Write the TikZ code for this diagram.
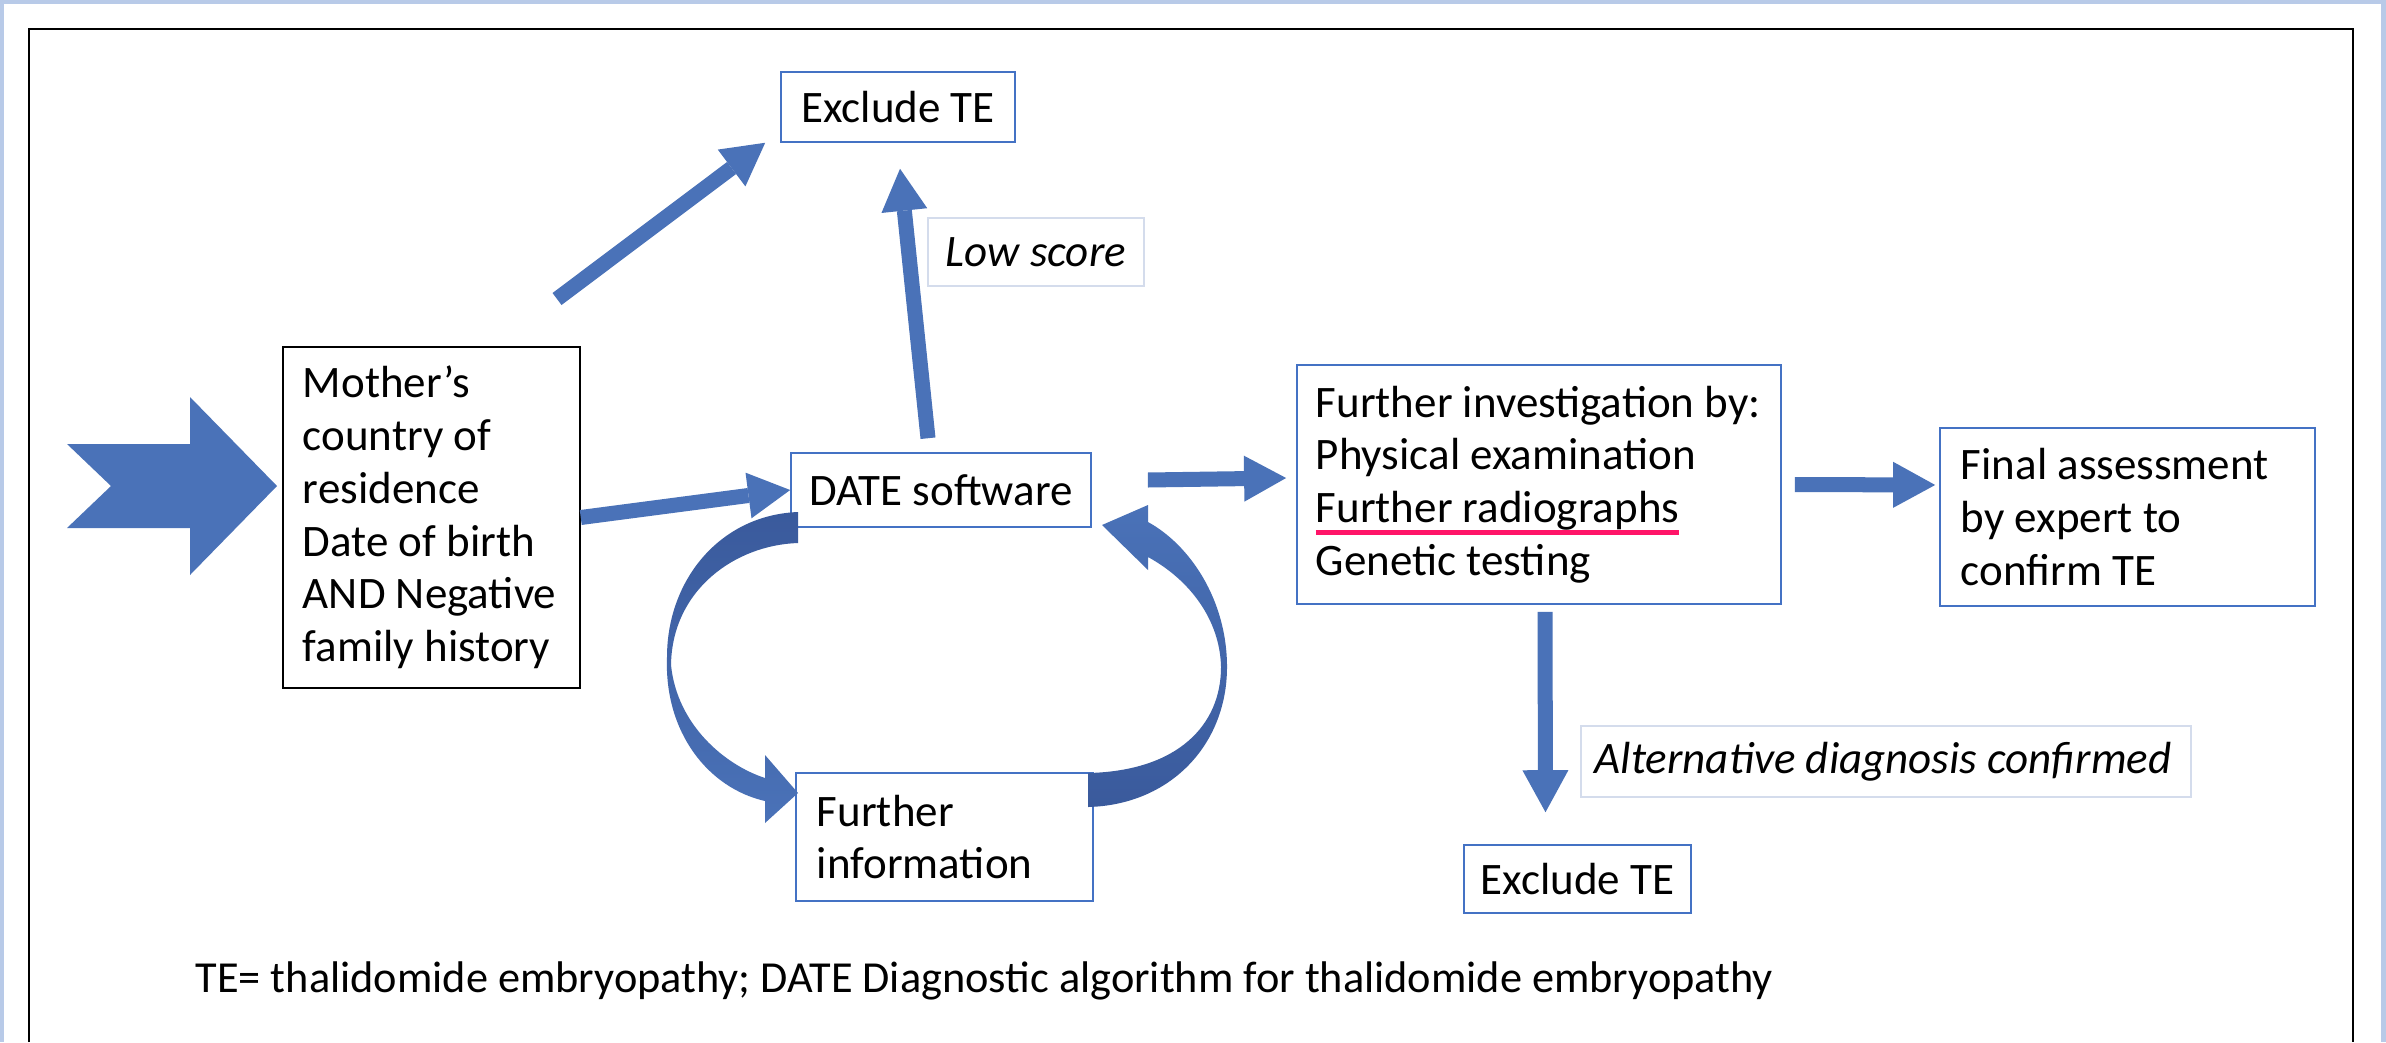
\documentclass[tikz,border=0pt]{standalone}
\usepackage{fontspec}
\setmainfont{Carlito}
\usetikzlibrary{arrows.meta}
\definecolor{arrowBlue}{HTML}{4A72B8}
\definecolor{curveDark}{HTML}{3A5A9C}
\definecolor{boxBlue}{HTML}{4472C4}
\definecolor{labelLine}{HTML}{D4DCEC}
\definecolor{bgBlue}{HTML}{B8CAE8}
\definecolor{ulPink}{HTML}{FF1468}
\newlength\ulwd
\newcommand\pinkul[1]{\leavevmode\settowidth{\ulwd}{#1}\rlap{\textcolor{ulPink}{\rule[-3.5pt]{\ulwd}{1.4pt}}}#1}
\tikzset{
  txt/.style={font=\fontsize{12.8}{15}\selectfont},
  bluebox/.style={txt, draw=boxBlue, line width=0.015cm, fill=white, inner ysep=0pt},
  blackbox/.style={txt, draw=black, line width=0.013cm, fill=white, inner ysep=0pt},
  labelbox/.style={txt, font=\fontsize{12.8}{15}\selectfont\itshape, draw=labelLine, line width=0.015cm, fill=white, inner ysep=0pt},
  blockarrow/.style={draw=arrowBlue, line width=0.15cm, line cap=butt, -{Triangle[length=0.42cm,width=0.46cm,line width=0pt]}},
}
\begin{document}
\begin{tikzpicture}[x=0.01cm, y=-0.01cm]
\useasboundingbox (0,0) rectangle (2386,1042);
% page background
\fill[bgBlue] (0,0) rectangle (2386,1042);
\fill[white] (4,4) rectangle (2381,1042);
% frame
\draw[black, line width=0.025cm] (29,1042) -- (29,29) -- (2353,29) -- (2353,1042);

% big notched input arrow
\fill[arrowBlue] (67,444) -- (190,444) -- (190,397) -- (277,486) -- (190,575) -- (190,528) -- (67,528) -- (111,486) -- cycle;

% boxes
\node[blackbox, inner xsep=0.2cm, text width=2.57cm, minimum height=3.41cm, align=flush left] (mother) at (431.5,517.5)
  {Mother’s\\country of\\residence\\Date of birth\\AND Negative\\family history};
\node[bluebox, minimum width=2.34cm, minimum height=0.70cm, align=center] (exTop) at (898,107) {Exclude TE};
\node[labelbox, minimum width=2.16cm, minimum height=0.68cm, align=center] (low) at (1036,252) {Low score};
\node[bluebox, minimum width=3.00cm, minimum height=0.74cm, align=center] (date) at (941,490) {DATE software};
\node[bluebox, inner xsep=0.21cm, text width=2.55cm, minimum height=1.28cm, align=flush left] (info) at (944.5,837)
  {Further\\information};
\node[bluebox, inner xsep=0.19cm, text width=4.46cm, minimum height=2.39cm, align=flush left] (inv) at (1539,484.5)
  {Further investigation by:\\Physical examination\\\pinkul{Further radiographs}\\Genetic testing};
\node[bluebox, inner xsep=0.21cm, text width=3.33cm, minimum height=1.78cm, align=flush left] (final) at (2127.5,517)
  {Final assessment\\by expert to\\confirm TE};
\node[labelbox, inner xsep=0.14cm, text width=5.82cm, minimum height=0.71cm, align=flush left] (alt) at (1886,761.5)
  {Alternative diagnosis confirmed};
\node[bluebox, minimum width=2.27cm, minimum height=0.68cm, align=center] (exBot) at (1577.5,879) {Exclude TE};

\node[font=\fontsize{12.6}{15}\selectfont, anchor=west, inner sep=0pt] (note) at (195,981)
  {TE= thalidomide embryopathy; DATE Diagnostic algorithm for thalidomide embryopathy};

% straight block arrows
\coordinate (diagTail) at (557,299);
\draw[blockarrow] (diagTail) -- ([xshift=-0.15cm]exTop.south west);
\draw[blockarrow] ([xshift=-0.13cm,yshift=0.14cm]date.north) -- ([xshift=0.02cm,yshift=-0.26cm]exTop.south);
\draw[blockarrow] (mother.east) -- (date.west);
\draw[blockarrow] ([xshift=0.56cm,yshift=0.10cm]date.east) -- ([xshift=-0.10cm,yshift=0.065cm]inv.west);
\draw[blockarrow] ([xshift=0.13cm]inv.east) -- ([xshift=-0.04cm,yshift=0.32cm]final.west);
\draw[blockarrow] ([xshift=0.06cm,yshift=-0.07cm]inv.south) -- ([xshift=-0.32cm,yshift=0.32cm]exBot.north);

% curved arrow: DATE software -> Further information
\shade[top color=curveDark, middle color=arrowBlue, bottom color=arrowBlue]
  (798,512) .. controls (720,515) and (667,580) .. (667,657)
  .. controls (664,732) and (708,788) .. (765,801)
  -- (765,823) -- (798,793) -- (765,755) -- (765,778)
  .. controls (725,765) and (677,725) .. (671,665)
  .. controls (672,590) and (735,545) .. (798,543) -- cycle;
% curved arrow: Further information -> DATE software
\shade[bottom color=curveDark, middle color=arrowBlue, top color=arrowBlue]
  (1088,807) .. controls (1170,805) and (1227,745) .. (1227,667)
  .. controls (1227,600) and (1190,545) .. (1148,522)
  -- (1148,505) -- (1102,525) -- (1148,570) -- (1148,557)
  .. controls (1190,580) and (1220,620) .. (1221,667)
  .. controls (1221,725) and (1178,771) .. (1088,773) -- cycle;
\end{tikzpicture}
\end{document}
